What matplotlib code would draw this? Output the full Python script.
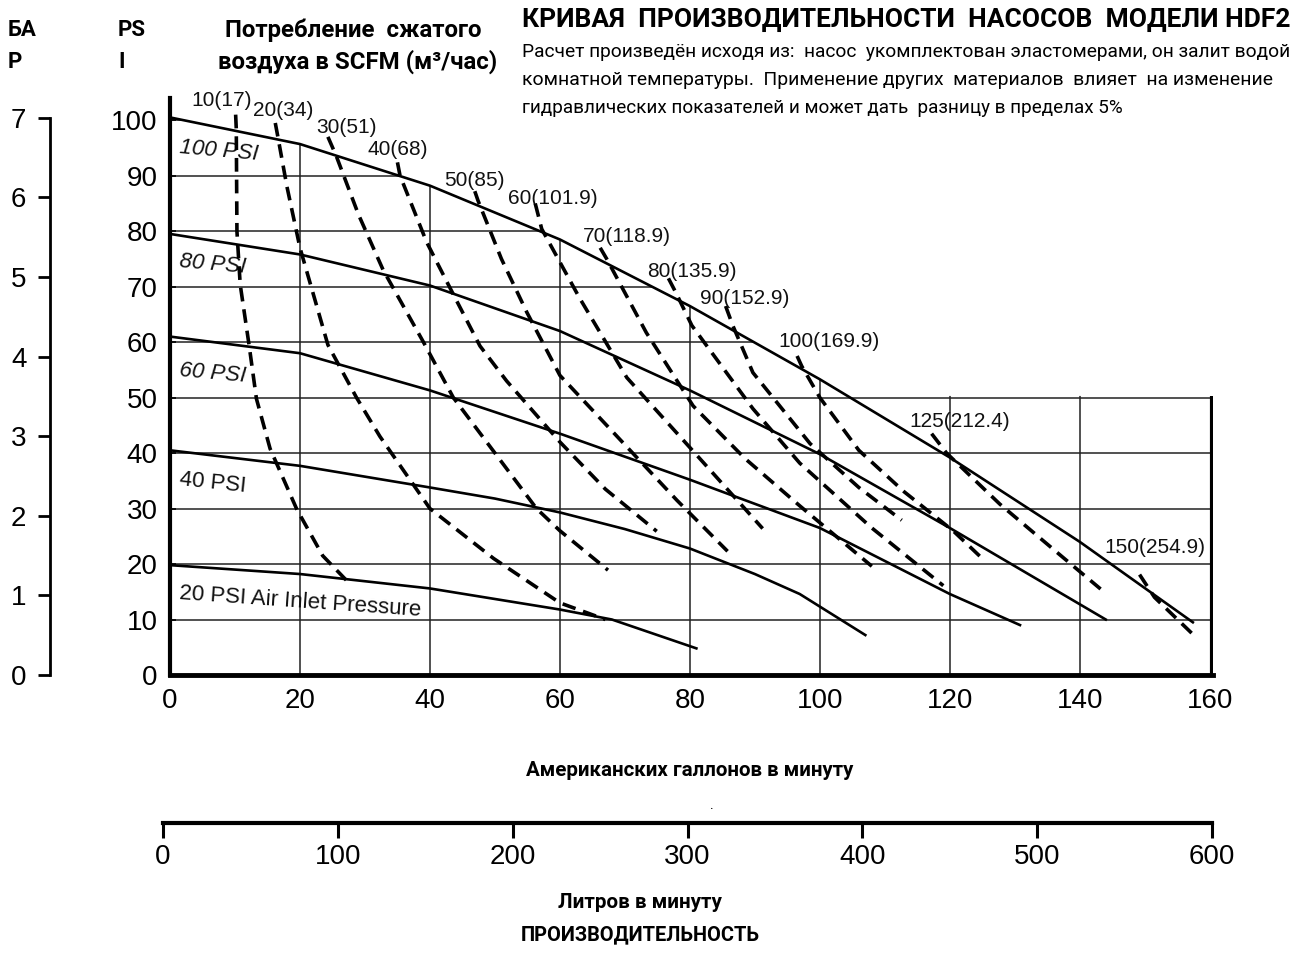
import numpy as np
import matplotlib
matplotlib.use('Agg')
from matplotlib import pyplot as plt
from matplotlib.patches import Polygon

# air inlet pressure curves: flow (US GPM) vs discharge pressure (PSI)
psi100_x = [0, 20, 40, 60, 80, 100, 120, 140, 157.4]
psi100_y = [100.5, 95.7, 88.2, 78.5, 66.5, 53.3, 39.2, 24, 9.5]
psi80_x = [0, 20, 40, 60, 80, 100, 120, 144]
psi80_y = [79.5, 75.8, 70.2, 62, 51.3, 39.8, 26.5, 10]
psi60_x = [0, 20, 40, 60, 80, 100, 120, 130.8]
psi60_y = [61, 58, 51.3, 43.5, 35.2, 26.5, 14.6, 9]
psi40_x = [0, 20, 40, 50, 60, 70, 80, 90, 96.9, 107]
psi40_y = [40.5, 37.7, 33.8, 31.8, 29.3, 26.3, 22.8, 18.2, 14.6, 7.2]
psi20_x = [0, 20, 40, 60, 68, 81]
psi20_y = [19.8, 18.2, 15.6, 11.8, 10, 4.8]
psi_labels = ['100 PSI', '80 PSI', '60 PSI', '40 PSI', '20 PSI Air Inlet Pressure']

# air consumption curves, SCFM (m3/h)
scfm10_x = [10.1, 10.2, 10.3, 10.8, 12.2, 13.3, 15.4, 19.5, 23.5, 27.2]
scfm10_y = [101, 98.4, 80, 70.4, 59.2, 49.8, 40.8, 29.9, 21.5, 17]
scfm20_x = [16.2, 16.6, 18, 20, 24.3, 28.7, 32.3, 40, 49.8, 60, 67]
scfm20_y = [99.5, 97, 88, 77, 59.5, 50, 43, 30, 21, 13, 10]
scfm30_x = [24.3, 25.6, 29, 32.8, 39, 43.6, 50, 56.4, 60, 67.4]
scfm30_y = [97, 93.5, 83, 73, 60, 50, 40, 30, 26, 18.9]
scfm40_x = [35, 35.4, 39.5, 43.6, 47.7, 51.8, 60, 67, 74.9]
scfm40_y = [92.4, 90, 78, 68.6, 59.3, 53, 42, 33.5, 25.9]
scfm50_x = [46.9, 47.4, 51, 54.9, 60, 70, 78, 85.8]
scfm50_y = [87.2, 85.5, 75, 65.4, 54, 41.5, 31.5, 22.3]
scfm60_x = [56.2, 57.2, 63, 70.3, 80, 91.2]
scfm60_y = [85, 80.4, 68, 53.6, 41, 26.4]
scfm70_x = [66.2, 67.2, 73.3, 80.5, 88.5, 96.9, 108]
scfm70_y = [77, 75, 61.7, 48.5, 39, 30.5, 19.6]
scfm80_x = [76.7, 77.9, 80.3, 89.7, 96.9, 108, 119]
scfm80_y = [71.5, 68.8, 63, 48, 38.2, 26.5, 16.1]
scfm90_x = [85.5, 86.6, 89.7, 98.5, 106, 112.6]
scfm90_y = [66.5, 63, 54.5, 41.7, 33.8, 27.9]
scfm100_x = [96.5, 97.2, 100, 106, 113, 120.5, 124.9]
scfm100_y = [57.5, 55.7, 50, 40.5, 33, 26, 21.1]
scfm125_x = [117.2, 119.5, 127.7, 136.9, 143.2]
scfm125_y = [43.5, 40, 30.8, 21.7, 15.5]
scfm150_x = [149.2, 151.5, 157.7]
scfm150_y = [18.1, 14, 7]
scfm_labels = ['10(17)', '20(34)', '30(51)', '40(68)', '50(85)', '60(101.9)',
               '70(118.9)', '80(135.9)', '90(152.9)', '100(169.9)', '125(212.4)', '150(254.9)']

gpm_ticks = [0, 20, 40, 60, 80, 100, 120, 140, 160]
psi_ticks = [0, 10, 20, 30, 40, 50, 60, 70, 80, 90, 100]
bar_ticks = [0, 1, 2, 3, 4, 5, 6, 7]
lpm_ticks = [0, 100, 200, 300, 400, 500, 600]

psi_x = [psi100_x, psi80_x, psi60_x, psi40_x, psi20_x]
psi_y = [psi100_y, psi80_y, psi60_y, psi40_y, psi20_y]
scfm_x = [scfm10_x, scfm20_x, scfm30_x, scfm40_x, scfm50_x, scfm60_x,
          scfm70_x, scfm80_x, scfm90_x, scfm100_x, scfm125_x, scfm150_x]
scfm_y = [scfm10_y, scfm20_y, scfm30_y, scfm40_y, scfm50_y, scfm60_y,
          scfm70_y, scfm80_y, scfm90_y, scfm100_y, scfm125_y, scfm150_y]

# label placement (data coords) for the curve annotations
psi_label_pos = [(1.5, 95.0, -5), (1.5, 74.6, -5), (1.5, 54.8, -5), (1.5, 35.2, -6), (1.5, 14.6, -4)]
psi_label_style = ['italic', 'italic', 'italic', 'normal', 'normal']
scfm_label_pos = [(8.0, 103.6), (17.4, 101.8), (27.1, 98.7), (35.1, 94.7), (46.9, 89.1),
                  (58.9, 85.8), (70.3, 79.1), (80.3, 72.8), (88.5, 67.9), (101.4, 60.1),
                  (121.5, 45.7), (151.5, 22.9)]

W, H = 1292, 960
plt.rcParams['font.family'] = ['Liberation Sans', 'DejaVu Sans']
fig = plt.figure(figsize=(W / 100, H / 100), dpi=100)

ax = fig.add_axes([170 / W, 1 - 675 / H, 1043 / W, 577 / H])
ax.set_xlim(0, 160.5)
ax.set_ylim(0, 104)
ax.patch.set_alpha(0)

# grid only below the 100 PSI curve (or below 50 PSI at the right)
gx = np.linspace(0, 160.5, 400)
top = np.maximum(np.interp(gx, psi100_x, psi100_y), 50.3)
clip = Polygon(np.column_stack([np.r_[0, gx, 160.5], np.r_[0, top, 0]]),
               closed=True, transform=ax.transData, facecolor='none', edgecolor='none')
ax.add_patch(clip)
for v in psi_ticks[1:]:
    ln = ax.axhline(v, color='#222222', lw=1.1, zorder=1)
    ln.set_clip_path(clip)
for v in gpm_ticks[1:-1]:
    ln = ax.axvline(v, color='#222222', lw=1.1, zorder=1)
    ln.set_clip_path(clip)
ax.plot([160.3, 160.3], [0, 50.3], color='black', lw=3, solid_capstyle='butt')

for xs, ys in zip(psi_x, psi_y):
    ax.plot(xs, ys, color='black', lw=1.9, zorder=3)
for xs, ys in zip(scfm_x, scfm_y):
    ax.plot(xs, ys, color='black', lw=2.6, ls=(0, (3.8, 2.2)), zorder=4)

for lab, (lx, ly, rot), st in zip(psi_labels, psi_label_pos, psi_label_style):
    ax.text(lx, ly, lab, fontsize=16, rotation=rot, rotation_mode='anchor',
            ha='left', va='center', style=st, color='#111111')
for lab, (lx, ly) in zip(scfm_labels, scfm_label_pos):
    ax.text(lx, ly, lab, fontsize=15, ha='center', va='center', color='#111111')

for s in ['top', 'right']:
    ax.spines[s].set_visible(False)
ax.spines['left'].set_linewidth(3)
ax.spines['bottom'].set_linewidth(3.5)
ax.set_xticks(gpm_ticks)
ax.set_yticks(psi_ticks)
ax.tick_params(axis='x', length=0, pad=9, labelsize=20)
ax.tick_params(axis='y', direction='in', length=4, width=1.2, pad=9, labelsize=20)

# bar scale on the far left
axb = fig.add_axes([50 / W, 1 - 675 / H, 0.001, 577 / H])
axb.set_ylim(0, 7.25)
axb.set_xticks([])
axb.set_yticks(bar_ticks)
for s in ['top', 'right', 'bottom']:
    axb.spines[s].set_visible(False)
axb.spines['left'].set_bounds(0, 7)
axb.spines['left'].set_linewidth(2)
axb.tick_params(axis='y', length=9, width=2, pad=8, labelsize=20)
axb.patch.set_alpha(0)

# litres per minute scale
axl = fig.add_axes([163 / W, 1 - 823 / H, 1049 / W, 0.001])
axl.set_xlim(0, 600)
axl.set_yticks([])
axl.set_xticks(lpm_ticks)
for s in ['top', 'right', 'left']:
    axl.spines[s].set_visible(False)
axl.spines['bottom'].set_linewidth(3)
axl.tick_params(axis='x', length=11, width=2.2, pad=4, labelsize=20)
axl.patch.set_alpha(0)

# header and captions
hdr = ['Roboto', 'DejaVu Sans']
cap = ['Liberation Sans Narrow', 'Roboto', 'DejaVu Sans']


def put(x, y, s, width=None, **kw):
    t = fig.text(x / W, 1 - y / H, s, va='center', **kw)
    if width:
        r = fig.canvas.get_renderer()
        w = t.get_window_extent(r).width
        t.set_fontsize(t.get_fontsize() * width / w)
    return t


put(8, 30, 'БА', family=hdr, fontsize=16, weight='bold')
put(8, 62, 'Р', family=hdr, fontsize=16, weight='bold')
put(118, 30, 'PS', family=hdr, fontsize=16, weight='bold')
put(118, 62, 'I', family=hdr, fontsize=16, weight='bold')
t2 = put(218, 62, 'воздуха в SCFM (м³/час)', width=280, family=hdr, fontsize=15, weight='bold')
put(225, 30, 'Потребление  сжатого', family=hdr, fontsize=t2.get_fontsize(), weight='bold')
put(522, 20, 'КРИВАЯ  ПРОИЗВОДИТЕЛЬНОСТИ  НАСОСОВ  МОДЕЛИ HDF2', width=768,
    family=hdr, fontsize=16, weight='bold')
put(522, 52, 'Расчет произведён исходя из:  насос  укомплектован эластомерами, он залит водой',
    width=766, family=hdr, fontsize=12)
put(522, 80, 'комнатной температуры.  Применение других  материалов  влияет  на изменение',
    width=748, family=hdr, fontsize=12)
put(522, 108, 'гидравлических показателей и может дать  разницу в пределах 5%',
    width=600, family=hdr, fontsize=12)

put(690, 771, 'Американских галлонов в минуту', width=330, family=cap, fontsize=15,
    weight='bold', ha='center')
put(712, 805, '.', family=cap, fontsize=10, ha='center')
put(640, 903, 'Литров в минуту', width=165, family=cap, fontsize=15, weight='bold', ha='center')
put(640, 935, 'ПРОИЗВОДИТЕЛЬНОСТЬ', width=240, family=cap, fontsize=15, weight='bold', ha='center')

fig.savefig('out.png', dpi=100, facecolor='white')
